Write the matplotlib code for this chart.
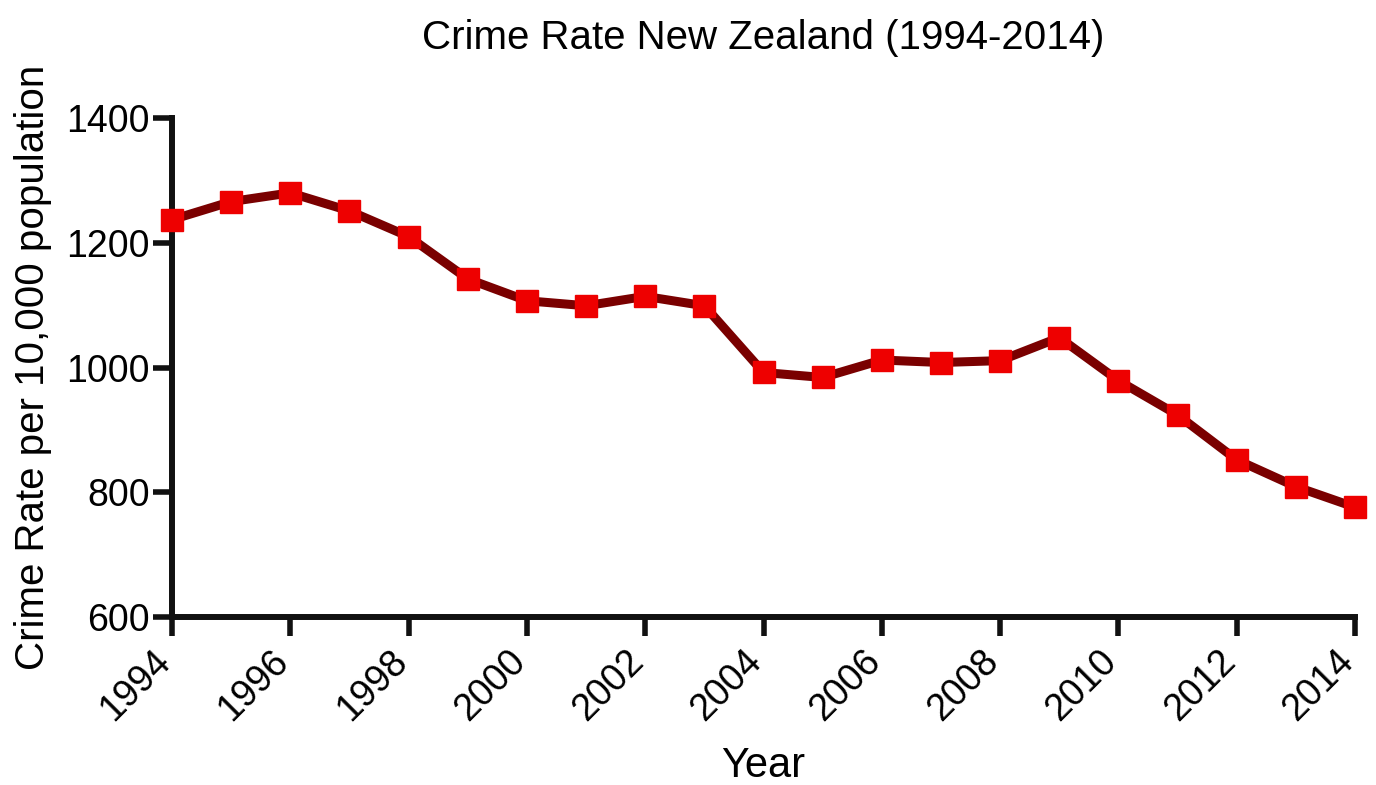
import matplotlib
matplotlib.use("Agg")
import matplotlib.pyplot as plt

years = list(range(1994, 2015))
crime_rate = [1237, 1266, 1280, 1251, 1210, 1142, 1107, 1099, 1114, 1099,
              992, 984, 1012, 1008, 1011, 1048, 979, 924, 852, 809, 776]
x_ticks = list(range(1994, 2015, 2))
y_ticks = [600, 800, 1000, 1200, 1400]

plt.rcParams['font.family'] = ['Liberation Sans', 'DejaVu Sans']

fig = plt.figure(figsize=(13.76, 7.85), dpi=100)
ax = fig.add_axes([172/1376, 1-617/785, (1355-172)/1376, (617-118)/785])

ax.plot(years, crime_rate, color='#7a0000', linewidth=6.5, marker='s',
        markersize=16, markerfacecolor='#ee0000', markeredgecolor='#ee0000',
        clip_on=False, zorder=3)

ax.set_xlim(1994, 2014)
ax.set_ylim(600, 1400)
ax.set_xticks(x_ticks)
ax.set_yticks(y_ticks)
ax.set_xticklabels([str(t) for t in x_ticks], rotation=45, ha='right',
                   va='baseline', rotation_mode='anchor')
for s in ['top', 'right']:
    ax.spines[s].set_visible(False)
for s in ['left', 'bottom']:
    ax.spines[s].set_linewidth(4.3)
    ax.spines[s].set_color('#111111')
ax.tick_params(axis='both', direction='out', length=14, width=4,
               color='#111111', labelsize=27, pad=2)
ax.tick_params(axis='x', pad=19)

ax.set_title('Crime Rate New Zealand (1994-2014)', fontsize=29, pad=50)
ax.set_xlabel('Year', fontsize=30, labelpad=13)
ax.set_ylabel('Crime Rate per 10,000 population', fontsize=29, labelpad=10)

fig.savefig('out.png', dpi=100)
